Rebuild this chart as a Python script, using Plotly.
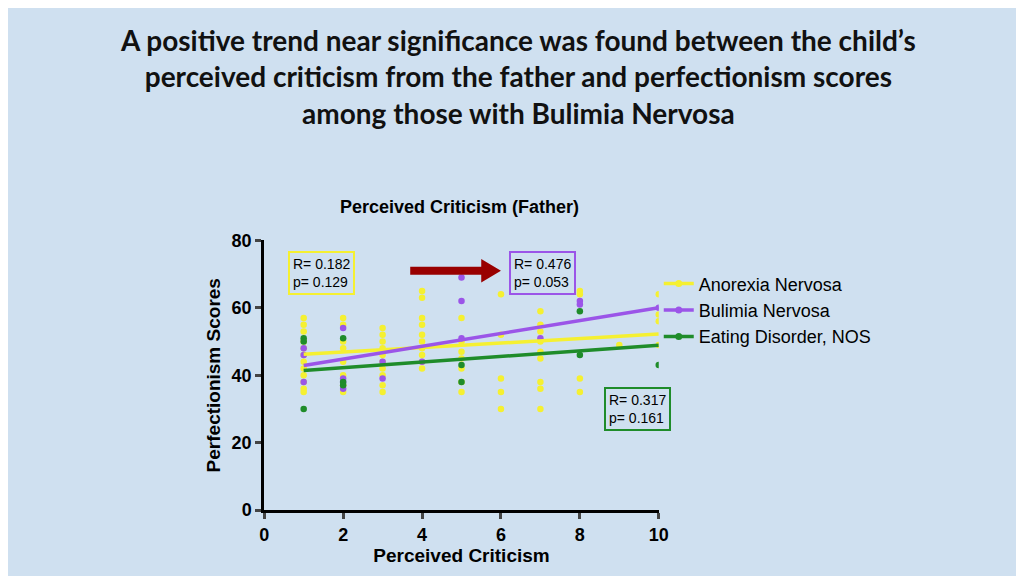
import plotly.graph_objects as go

an_x = [1]*12 + [2]*8 + [3]*10 + [4]*10 + [5]*7 + [6]*5 + [7]*9 + [8]*4 + [9] + [10]*4
an_y = [57,55,53,50,48,46,44,42,40,38,36,35,
        57,55,50,48,44,40,37,35,
        54,52,50,48,46,44,42,40,37,35,
        65,63,57,55,52,50,48,46,44,42,
        57,50,47,45,42,38,35,
        64,52,39,35,30,
        59,55,53,50,47,45,38,36,30,
        65,64,39,35,
        49,
        64,58,56,49]
bn_x = [1,1,1,2,2,2,2,3,3,4,5,5,5,7,8,8,10]
bn_y = [48,46,38,54,39,38,36,44,39,44,69,62,51,51,62,61,60]
ed_x = [1,1,1,2,2,2,5,5,8,8,10]
ed_y = [51,50,30,51,38,37,43,38,59,46,43]
fit_x = [1, 10]
an_fit = [46.2, 52.2]
bn_fit = [42.9, 60.0]
ed_fit = [41.4, 48.9]

Y, P, G = "#f5f031", "#9b55e8", "#1f8c2a"
fig = go.Figure()
for x, y, c in [(an_x, an_y, Y), (bn_x, bn_y, P), (ed_x, ed_y, G)]:
    fig.add_trace(go.Scatter(x=x, y=y, mode="markers", marker=dict(color=c, size=6.5), showlegend=False))
for y, c, n in [(an_fit, Y, "Anorexia Nervosa"), (bn_fit, P, "Bulimia Nervosa"), (ed_fit, G, "Eating Disorder, NOS")]:
    fig.add_trace(go.Scatter(x=fit_x, y=y, mode="lines", line=dict(color=c, width=3.5), showlegend=False))
    fig.add_trace(go.Scatter(x=[None], y=[None], mode="lines+markers", line=dict(color=c, width=3.5),
                             marker=dict(color=c, size=7), name=n))

bg = "#cfe0f0"
fig.update_layout(
    width=1024, height=576, paper_bgcolor=bg, plot_bgcolor=bg,
    margin=dict(l=0, r=0, t=0, b=0),
    xaxis=dict(domain=[0.249, 0.64], range=[0, 10], dtick=2, showgrid=False, zeroline=False,
               showline=True, linecolor="black", linewidth=3, ticks="outside", ticklen=6, tickwidth=3,
               tickfont=dict(family="Liberation Sans", size=18, color="black", weight="bold"),
               title=dict(text="<b>Perceived Criticism</b>", font=dict(family="Liberation Sans", size=19, color="black"), standoff=2)),
    yaxis=dict(domain=[0.115, 0.6], range=[0, 80], dtick=20, showgrid=False, zeroline=False,
               showline=True, linecolor="black", linewidth=3, ticks="outside", ticklen=6, tickwidth=3,
               tickfont=dict(family="Liberation Sans", size=18, color="black", weight="bold"),
               title=dict(text="<b>Perfectionism Scores</b>", font=dict(family="Liberation Sans", size=19, color="black"), standoff=6)),
    legend=dict(x=0.64, y=0.555, xanchor="left", yanchor="top", bgcolor="rgba(0,0,0,0)",
                font=dict(family="Liberation Sans", size=18, color="black"), itemwidth=30, tracegroupgap=2),
    showlegend=True,
)
fig.add_annotation(text="<b>A positive trend near significance was found between the child’s<br>perceived criticism from the father and perfectionism scores<br>among those with Bulimia Nervosa</b>",
                   xref="paper", yref="paper", x=0.5, y=0.995, yanchor="top", showarrow=False,
                   font=dict(family="Lato", size=28, color="#111"), align="center")
fig.add_annotation(text="<b>Perceived Criticism (Father)</b>", xref="paper", yref="paper", x=0.443, y=0.66,
                   showarrow=False, font=dict(family="Liberation Sans", size=18, color="black"))
for t, x, y, c in [("R= 0.182<br>p= 0.129", 0.6, 77, Y), ("R= 0.476<br>p= 0.053", 6.2, 77, P), ("R= 0.317<br>p= 0.161", 8.6, 36.5, G)]:
    fig.add_annotation(text=t, x=x, y=y, xref="x", yref="y", showarrow=False, xanchor="left", yanchor="top",
                       align="left", bordercolor=c, borderwidth=2, borderpad=3,
                       font=dict(family="Liberation Sans", size=14, color="black"))
fig.add_shape(type="path", xref="x", yref="y", fillcolor="#990000", line=dict(width=0),
              path="M 3.7,72.2 L 5.5,72.2 L 5.5,74.5 L 6.0,71 L 5.5,67.5 L 5.5,69.8 L 3.7,69.8 Z")
fig.write_html("out.html")
